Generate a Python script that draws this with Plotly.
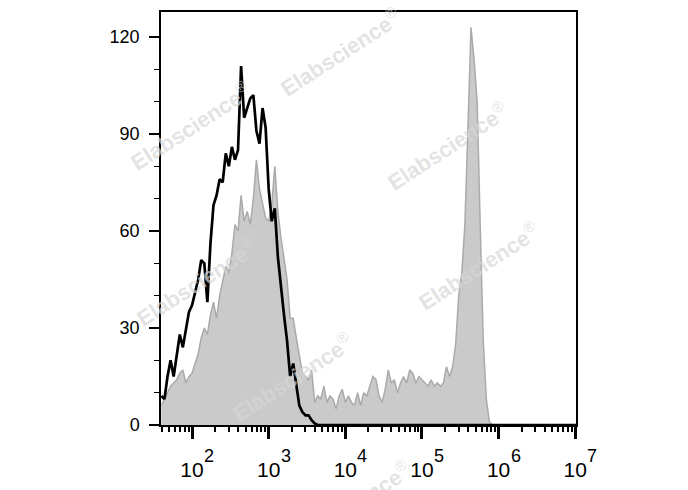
import plotly.graph_objects as go

# log10 channel positions (bin centres) for each histogram
black_exp = [1.60, 1.64, 1.68, 1.72, 1.76, 1.80, 1.84, 1.88, 1.92, 1.96,
             2.00, 2.04, 2.08, 2.12, 2.16, 2.20, 2.24, 2.28, 2.32, 2.36,
             2.40, 2.44, 2.48, 2.52, 2.56, 2.60, 2.64, 2.68, 2.72, 2.76,
             2.80, 2.84, 2.88, 2.92, 2.96, 3.00, 3.04, 3.08, 3.12, 3.16,
             3.20, 3.24, 3.28, 3.32, 3.36, 3.40, 3.44, 3.48, 3.52, 3.56,
             3.60, 3.64, 4.00, 5.00, 6.00, 7.01]
black_counts = [9, 8, 15, 20, 15, 22, 28, 24, 30, 35,
                37, 41, 45, 51, 50, 38, 56, 68, 71, 76,
                75, 84, 80, 86, 82, 85, 111, 95, 98, 101,
                102, 91, 87, 98, 92, 73, 63, 67, 52, 42,
                34, 26, 15, 19, 12, 6, 4, 3, 3, 1.5,
                0.5, 0, 0, 0, 0, 0]

gray_exp = [1.60, 1.64, 1.68, 1.72, 1.76, 1.80, 1.84, 1.88, 1.92, 1.96,
            2.00, 2.04, 2.08, 2.12, 2.16, 2.20, 2.24, 2.28, 2.32, 2.36,
            2.40, 2.44, 2.48, 2.52, 2.56, 2.60, 2.64, 2.68, 2.72, 2.76,
            2.80, 2.84, 2.88, 2.92, 2.96, 3.00, 3.04, 3.08, 3.12, 3.16,
            3.20, 3.24, 3.28, 3.32, 3.36, 3.40, 3.44, 3.48, 3.52, 3.56,
            3.60, 3.64, 3.68, 3.72, 3.76, 3.80, 3.84, 3.88, 3.92, 3.96,
            4.00, 4.04, 4.08, 4.12, 4.16, 4.20, 4.24, 4.28, 4.32, 4.36,
            4.40, 4.44, 4.48, 4.52, 4.56, 4.60, 4.64, 4.68, 4.72, 4.76,
            4.80, 4.84, 4.88, 4.92, 4.96, 5.00, 5.04, 5.08, 5.12, 5.16,
            5.20, 5.24, 5.28, 5.32, 5.36, 5.40, 5.44, 5.48, 5.52, 5.56,
            5.60, 5.64, 5.68, 5.72, 5.76, 5.80, 5.84, 5.88, 5.92]
gray_counts = [6, 8, 10, 12, 13, 14, 16, 17, 13, 15,
               16, 19, 22, 27, 30, 28, 34, 38, 33, 40,
               45, 49, 47, 53, 62, 60, 71, 63, 66, 62,
               70, 82, 73, 68, 64, 63, 68, 80, 66, 58,
               52, 45, 33, 33, 27, 21, 16, 15, 14, 17,
               7, 9, 8, 12, 7, 9, 8, 5, 9, 11,
               7, 9, 7, 6, 10, 6, 10, 9, 12, 15,
               14, 9, 7, 11, 17, 13, 14, 10, 13, 15,
               13, 17, 16, 13, 15, 14, 13, 12, 14, 12,
               13, 12, 13, 18, 15, 18, 25, 40, 47, 62,
               92, 123, 113, 100, 62, 26, 8, 1, 0]

x_tick_exps = [2, 3, 4, 5, 6, 7]
y_tick_vals = [0, 30, 60, 90, 120]

FONT = "Liberation Sans, Arial, sans-serif"

fig = go.Figure()
fig.add_trace(go.Scatter(
    x=[10 ** e for e in gray_exp], y=gray_counts, mode="lines",
    fill="tozeroy", fillcolor="rgb(202,202,202)",
    line=dict(color="rgb(170,170,170)", width=1.5), hoverinfo="skip"))
fig.add_trace(go.Scatter(
    x=[10 ** e for e in black_exp], y=black_counts, mode="lines",
    line=dict(color="black", width=2.7), hoverinfo="skip"))

L, R, T, B = 161, 576, 12, 425

# exponents of the decade labels, drawn full size as in the reference
for e in x_tick_exps:
    fig.add_annotation(
        x=e, xref="x", y=(B - 444) / (B - T), yref="paper",
        xanchor="left", yanchor="top", xshift=10,
        text=str(e), showarrow=False,
        font=dict(family=FONT, size=18, color="black"))

# watermarks (pixel centres -> paper coords)
wm_centres = [(340, 52), (190, 126), (447, 146), (478, 266), (196, 282), (292, 377), (350, 505)]
for (px, py) in wm_centres:
    fig.add_annotation(
        x=(px - L) / (R - L), y=(B - py) / (B - T), xref="paper", yref="paper",
        xanchor="center", yanchor="middle",
        text="<b>Elabscience</b><sup>®</sup>", showarrow=False, textangle=-33,
        font=dict(family=FONT, size=22, color="rgba(215,215,215,0.7)"))

fig.update_layout(
    width=688, height=490,
    margin=dict(l=L, r=688 - R, t=T, b=490 - B),
    paper_bgcolor="white", plot_bgcolor="white",
    showlegend=False,
    font=dict(family=FONT, size=18, color="black"),
    xaxis=dict(
        type="log", range=[1.595, 7.01], automargin=False,
        tickvals=[10 ** e for e in x_tick_exps],
        ticktext=["10" for e in x_tick_exps],
        ticks="outside", ticklen=12, tickwidth=2.5, tickcolor="black",
        showline=True, linecolor="black", linewidth=1.5, mirror=True,
        showgrid=False, zeroline=False,
        tickfont=dict(size=21), ticklabelstandoff=13,
        minor=dict(ticks="outside", ticklen=5, tickwidth=1.5, tickcolor="black", dtick="D1", showgrid=False),
    ),
    yaxis=dict(
        range=[0, 127.7], automargin=False,
        tickvals=y_tick_vals,
        ticks="outside", ticklen=10, tickwidth=2, tickcolor="black",
        showline=True, linecolor="black", linewidth=1.5, mirror=True,
        showgrid=False, zeroline=False,
        tickfont=dict(size=18), ticklabelstandoff=6,
        minor=dict(ticks="outside", ticklen=5, tickwidth=1.2, tickcolor="black", dtick=10, showgrid=False),
    ),
)

fig.write_html("out.html", config={"displayModeBar": False},
               post_script="document.body.style.margin='0';")
